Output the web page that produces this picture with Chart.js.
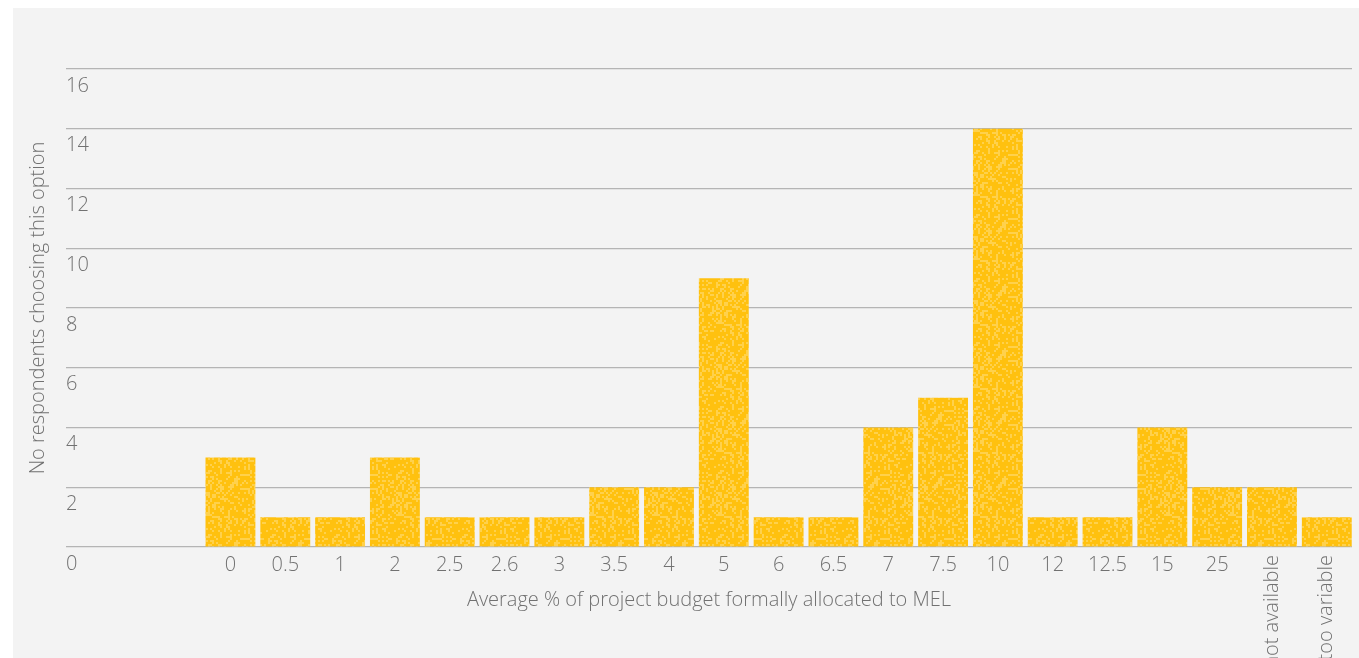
<!DOCTYPE html>
<html>
<head>
<meta charset="utf-8">
<script src="https://cdn.jsdelivr.net/npm/chart.js@4/dist/chart.umd.min.js"></script>
<style>
  html, body { margin: 0; padding: 0; background: #fff; }
  #panel { position: absolute; left: 13px; top: 8px; width: 1346px; height: 650px; background: #f3f3f3; }
  #budgetChart { position: absolute; left: 0; top: 0; }
</style>
</head>
<body>
<div id="panel"></div>
<canvas id="budgetChart" width="1359" height="658"></canvas>
<script>
const categories = ['0', '0.5', '1', '2', '2.5', '2.6', '3', '3.5', '4', '5', '6', '6.5', '7', '7.5', '10', '12', '12.5', '15', '25', 'not available', 'too variable'];
const respondents = [3, 1, 1, 3, 1, 1, 1, 2, 2, 9, 1, 1, 4, 5, 14, 1, 1, 4, 2, 2, 1];
const rotatedLabels = ['not available', 'too variable'];
const yMax = 16;
const yStep = 2;

const textColor = '#717171';
const fontFamily = '"Open Sans", Roboto, sans-serif';
const fontSize = 20;

// speckled yellow fill like the original bars
function makeTexture() {
  const c = document.createElement('canvas');
  c.width = 64;
  c.height = 64;
  const g = c.getContext('2d');
  g.fillStyle = '#ffc10f';
  g.fillRect(0, 0, 64, 64);
  g.fillStyle = 'rgba(255, 222, 128, 0.55)';
  for (let y = 0; y < 64; y += 2) {
    for (let x = 0; x < 64; x += 2) {
      const h = Math.sin(x * 12.9898 + y * 78.233) * 43758.5453;
      if (h - Math.floor(h) > 0.7) g.fillRect(x, y, 2, 2);
    }
  }
  return g.createPattern(c, 'repeat');
}

// labels that stand upright under the last bars
const rotatedLabelPlugin = {
  id: 'rotatedLabels',
  afterDraw(chart) {
    const x = chart.scales.x;
    const ctx = chart.ctx;
    ctx.save();
    ctx.font = '300 ' + fontSize + 'px ' + fontFamily;
    ctx.fillStyle = textColor;
    ctx.textAlign = 'right';
    ctx.textBaseline = 'middle';
    categories.forEach((label, i) => {
      if (!rotatedLabels.includes(label)) return;
      ctx.save();
      ctx.translate(x.getPixelForValue(i), chart.chartArea.bottom + 8);
      ctx.rotate(-Math.PI / 2);
      ctx.fillText(label, 0, 0);
      ctx.restore();
    });
    ctx.restore();
  }
};

const ctx = document.getElementById('budgetChart').getContext('2d');

new Chart(ctx, {
  type: 'bar',
  data: {
    datasets: [{
      data: respondents.map((v, i) => ({ x: i, y: v })),
      backgroundColor: makeTexture(),
      borderWidth: 0,
      barPercentage: 0.91,
      categoryPercentage: 1
    }]
  },
  options: {
    responsive: false,
    animation: false,
    layout: { padding: { left: 13, top: 69, right: 7, bottom: 0 } },
    plugins: {
      legend: { display: false },
      tooltip: { enabled: false }
    },
    scales: {
      x: {
        type: 'linear',
        offset: false,
        min: -3,
        max: 20.46,
        grid: { display: false },
        border: { display: false },
        ticks: {
          stepSize: 1,
          includeBounds: false,
          autoSkip: false,
          maxRotation: 0,
          minRotation: 0,
          padding: -2,
          color: textColor,
          font: { family: fontFamily, size: fontSize, weight: 300 },
          callback: (v) => {
            const label = categories[v];
            if (label === undefined || rotatedLabels.includes(label)) return '';
            return label;
          }
        },
        title: {
          display: true,
          text: 'Average % of project budget formally allocated to MEL',
          color: textColor,
          font: { family: fontFamily, size: fontSize, weight: 300 },
          padding: { top: 10, bottom: 46 }
        },
        afterFit: (scale) => { scale.height = 111; }
      },
      y: {
        min: 0,
        max: yMax,
        grid: { color: '#b4b4b4', lineWidth: 1.2, drawTicks: false },
        border: { display: false },
        ticks: {
          stepSize: yStep,
          mirror: true,
          padding: 0,
          labelOffset: 17,
          color: textColor,
          font: { family: fontFamily, size: fontSize, weight: 300 }
        },
        title: {
          display: true,
          text: 'No respondents choosing this option',
          color: textColor,
          font: { family: fontFamily, size: fontSize, weight: 300 },
          padding: { top: 13, bottom: 16 }
        },
        afterFit: (scale) => { scale.width = 53; }
      }
    }
  },
  plugins: [rotatedLabelPlugin]
});
</script>
</body>
</html>
